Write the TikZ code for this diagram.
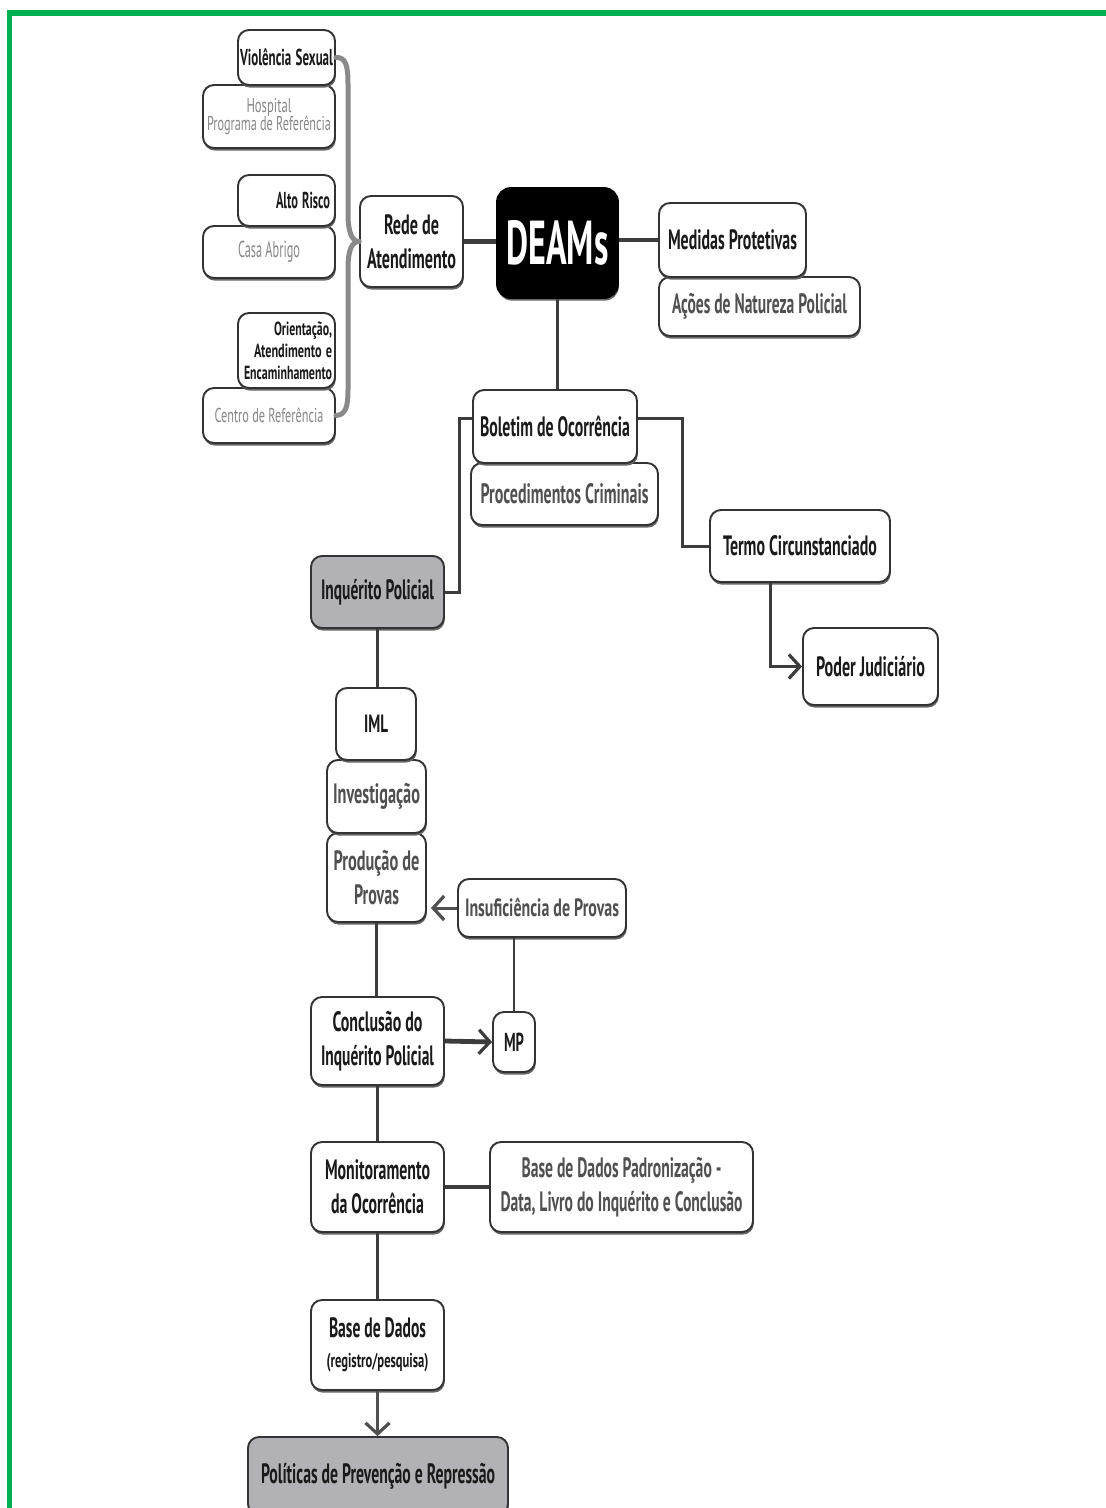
\documentclass[tikz,border=0pt]{standalone}
\usepackage{fontspec}
\setmainfont{PT Sans}
\usetikzlibrary{arrows.meta,shadows}
% squeeze one line of text to a set width, keeping its height
\newcommand\fw[2]{\resizebox{#1pt}{\height}{#2}}
\definecolor{frame}{HTML}{00B050}
\definecolor{ink}{HTML}{1A1A1A}
\definecolor{soft}{HTML}{888888}
\definecolor{mid}{HTML}{505050}
\definecolor{boxline}{HTML}{333333}
\definecolor{shade}{HTML}{666666}
\definecolor{link}{HTML}{3C3C3C}
\definecolor{brace}{HTML}{8A8A8A}
\definecolor{greyfill}{HTML}{B2B2B6}
\begin{document}
\begin{tikzpicture}[x=1pt,y=-1pt,
  box/.style={draw=boxline, line width=1.9pt, rounded corners=11pt, fill=white,
    inner sep=0pt, align=center, text=ink,
    font=\bfseries\fontsize{28}{34}\selectfont,
    drop shadow={shadow xshift=0.8pt, shadow yshift=-2.6pt, fill=shade, opacity=1}},
  small/.style={font=\bfseries\fontsize{23}{26}\selectfont},
  thin/.style={font=\fontsize{20}{21}\selectfont, text=soft},
  midtext/.style={text=mid},
  greybox/.style={fill=greyfill},
  sz/.style n args={2}{minimum width=#1pt, minimum height=#2pt},
  link/.style={draw=link, line width=3pt},
  heavy/.style={draw=link, line width=4.8pt},
  tip/.style={-{Straight Barb[length=11pt, width=24pt, line width=3.2pt]}}
]
\clip (0,0) rectangle (1106,1508);
\fill[white] (0,0) rectangle (1106,1508);

% frame along the top and left edges
\fill[frame] (7,10) rectangle (1106,16);
\fill[frame] (7,10) rectangle (12,1508);

% --- support network on the left ---
\node[box, thin, sz={132}{63}] (hosp) at (269,116.5) {\fw{45}{Hospital}\\[-3pt]\fw{124}{Programa de Referência}};
\node[box, small, sz={97}{55}, text width=93pt, align=right] (vs) at (286.5,57.5) {\fw{93}{Violência Sexual}};
\node[box, thin, font=\fontsize{23}{24}\selectfont, sz={132}{52}] (casa) at (269,252) {\fw{62}{Casa Abrigo}};
\node[box, small, sz={97}{51}, text width=87pt, align=right] (alto) at (286.5,200.5) {\fw{54}{Alto Risco}};
\node[box, thin, sz={132}{55}] (cref) at (269,415.5) {\fw{109}{Centro de Referência}};
\node[box, font=\bfseries\fontsize{19}{22}\selectfont, sz={97}{75}, text width=91pt, align=right] (ori) at (286.5,350.5)
  {\fw{58}{Orientação,}\\\fw{78}{Atendimento e}\\\fw{88}{Encaminhamento}};

\node[box, sz={103}{91}] (rede) at (411.5,241.5) {\fw{55}{Rede de}\\\fw{89}{Atendimento}};

% curly gathering line from the left column into the network box
\draw[brace, line width=5pt, line cap=round]
  (vs.east) .. controls (346,57) and (348,66) .. (348,84) -- (348,214)
  .. controls (348,232) and (352,241.5) .. (rede.west);
\draw[brace, line width=5pt, line cap=round]
  (cref.east) .. controls (346,415) and (348,406) .. (348,390) -- (348,268)
  .. controls (348,250) and (352,241.5) .. (rede.west);

% --- centre ---
\node[box, fill=black, draw=black, text=white, rounded corners=14pt, sz={121}{110},
  font=\bfseries\fontsize{62}{62}\selectfont] (deams) at (557.5,243) {\fw{102}{DEAMs}};
\node[box, midtext, sz={201}{59}] (acoes) at (759.5,306.5) {\fw{175}{Ações de Natureza Policial}};
\node[box, sz={147}{74}] (med) at (732.5,240) {\fw{129}{Medidas Protetivas}};

\path[heavy] (rede.east) -- (rede.east -| deams.west);
\path[heavy] (deams.east |- med.west) -- (med.west);

\node[box, midtext, sz={187}{62}] (proc) at (564.5,494) {\fw{168}{Procedimentos Criminais}};
\node[box, sz={164}{73}] (bol) at (555,426.5) {\fw{150}{Boletim de Ocorrência}};
\path[link] (deams.south) -- (deams.south |- bol.north);

\node[box, sz={180}{72}] (termo) at (800,546) {\fw{154}{Termo Circunstanciado}};
\node[box, sz={135}{77}] (poder) at (870.5,666.5) {\fw{109}{Poder Judiciário}};
\node[box, greybox, sz={133}{72}] (inq) at (377.5,592) {\fw{113}{Inquérito Policial}};

\path[link] ([yshift=8pt]bol.west) -- ++(-13,0) |- (inq.east);
\path[link] ([yshift=8pt]bol.east) -- ++(45,0) |- (termo.west);
\path[link, tip] ([xshift=-30pt]termo.south) |- (poder.west);

% --- investigation column ---
\node[box, midtext, sz={99}{89}] (prod) at (376.5,877.5) {\fw{86}{Produção de}\\\fw{45}{Provas}};
\node[box, midtext, sz={99}{73}] (inv) at (376.5,796.5) {\fw{87}{Investigação}};
\node[box, font=\bfseries\fontsize{25}{28}\selectfont, sz={80}{72}] (iml) at (376,724) {\fw{24}{IML}};
\path[link, line width=2.4pt] (inq.south) -- (inq.south |- iml.north);

\node[box, midtext, font=\bfseries\fontsize{25}{28}\selectfont, sz={168}{58}] (insuf) at (542,908) {\fw{154}{Insuficiência de Provas}};
\path[link, draw=mid, tip] (insuf.west) -- ([xshift=4pt]insuf.west -| prod.east);

\node[box, sz={133}{88}] (concl) at (377.5,1041) {\fw{90}{Conclusão do}\\\fw{113}{Inquérito Policial}};
\node[box, font=\bfseries\fontsize{26}{28}\selectfont, sz={42}{60}] (mp) at (514,1042) {\fw{20}{MP}};
\path[link, line width=2.4pt] (prod.south) -- (prod.south |- concl.north);
\path[link, line width=2.2pt] (mp.north |- insuf.south) -- (mp.north);
\path[heavy, tip] (concl.east) -- (mp.west);

\node[box, sz={133}{90}] (mon) at (377.5,1187) {\fw{105}{Monitoramento}\\\fw{93}{da Ocorrência}};
\node[box, midtext, sz={263}{90}] (bdp) at (621.5,1187) {\fw{200}{Base de Dados Padronização -}\\\fw{242}{Data, Livro do Inquérito e Conclusão}};
\path[link, line width=2.4pt] (concl.south) -- (concl.south |- mon.north);
\path[heavy] (mon.east) -- (bdp.west);

\node[box, sz={133}{90}] (bd) at (377.5,1345) {\fw{97}{Base de Dados}\\[-4pt]{\fontsize{20}{22}\selectfont\fw{102}{(registro/pesquisa)}}};
\path[link, line width=2.4pt] (mon.south) -- (mon.south |- bd.north);

\node[box, greybox, sz={260}{78}] (pol) at (378,1476) {\fw{234}{Políticas de Prevenção e Repressão}};
\path[link, draw=mid, tip] (bd.south) -- (bd.south |- pol.north);
\end{tikzpicture}
\end{document}
